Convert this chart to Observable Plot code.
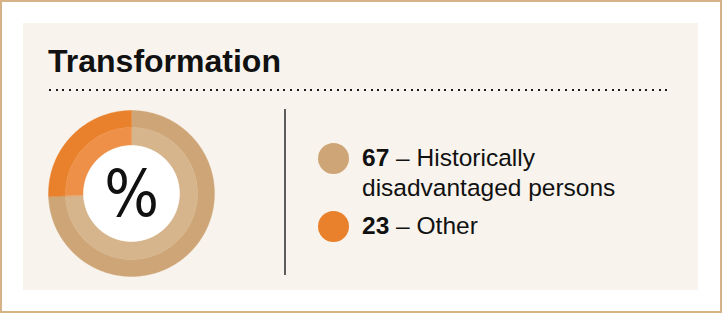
<!DOCTYPE html>
<html>
<head>
<meta charset="utf-8">
<script src="https://cdn.jsdelivr.net/npm/d3@7"></script>
<script src="https://cdn.jsdelivr.net/npm/@observablehq/plot@0.6"></script>
<style>
  html, body { margin: 0; padding: 0; background: #fff; }
  .page { position: relative; width: 722px; height: 313px; box-sizing: border-box; border: 2px solid #D6B386; background: #fff; overflow: hidden; font-family: "Liberation Sans", Arial, sans-serif; }
  .panel { position: absolute; left: 21px; top: 21px; width: 675px; height: 267px; background: #F8F4ED; }
  .title { position: absolute; left: 46px; top: 43px; font-size: 32px; line-height: 32px; font-weight: bold; color: #111; white-space: nowrap; }
  .dots { position: absolute; left: 47px; top: 87px; width: 622px; height: 2px;
          background: repeating-linear-gradient(to right, #1a1a1a 0, #1a1a1a 2px, transparent 2px, transparent 6.7px); }
  .divider { position: absolute; left: 282px; top: 107px; width: 2px; height: 166px; background: #5c5c5c; }
  #donut { position: absolute; left: 46px; top: 108px; width: 166px; height: 166px; }
  .legend { position: absolute; left: 316px; top: 141px; }
  .item { position: relative; display: flex; align-items: flex-start; margin-bottom: 8px; }
  .swatch { width: 31px; height: 31px; border-radius: 50%; flex: none; }
  .label { margin-left: 13px; width: 265px; font-size: 24.5px; line-height: 30px; color: #111; }
  .label b { font-weight: bold; }
</style>
</head>
<body>
<div class="page">
  <div class="panel"></div>
  <div class="title" id="title"></div>
  <div class="dots"></div>
  <div id="donut"></div>
  <div class="divider"></div>
  <div class="legend" id="legend"></div>
</div>
<script>
// ---- data ----
const chartTitle = "Transformation";
const categories = ["Historically disadvantaged persons", "Other"];
const values = [67, 23];
const outerColors = ["#CEA576", "#E9802C"];
const innerColors = ["#D6B58C", "#EE9047"];
const centerLabel = "%";

document.getElementById("title").textContent = chartTitle;

// ---- donut geometry from data ----
const arcs = d3.pie().sort(null).value(d => d)(values);
const rHole = 48 / 83, rMid = 66 / 83, rOut = 1;
function sector(key, a0, a1, r0, r1, color) {
  const n = Math.max(2, Math.ceil((a1 - a0) / 0.01));
  const pts = [];
  for (let i = 0; i <= n; i++) {
    const a = a0 + (a1 - a0) * i / n;
    pts.push({key, color, x: r1 * Math.sin(a), y: r1 * Math.cos(a)});
  }
  for (let i = n; i >= 0; i--) {
    const a = a0 + (a1 - a0) * i / n;
    pts.push({key, color, x: r0 * Math.sin(a), y: r0 * Math.cos(a)});
  }
  return pts;
}
let points = [];
arcs.forEach((a, i) => {
  points = points.concat(sector(categories[i] + "-outer", a.startAngle, a.endAngle, rMid, rOut, outerColors[i]));
  points = points.concat(sector(categories[i] + "-inner", a.startAngle, a.endAngle, rHole, rMid, innerColors[i]));
});
const hole = sector("hole", 0, 2 * Math.PI, 0, rHole, "#ffffff");

const chart = Plot.plot({
  width: 166,
  height: 166,
  margin: 0,
  x: {domain: [-1, 1], axis: null},
  y: {domain: [-1, 1], axis: null},
  color: {type: "identity"},
  style: {background: "transparent", overflow: "visible"},
  marks: [
    Plot.line(points, {x: "x", y: "y", z: "key", fill: "color", stroke: "color", strokeWidth: 0.4, curve: "linear-closed"}),
    Plot.line(hole, {x: "x", y: "y", z: "key", fill: "color", stroke: "color", strokeWidth: 0.4, curve: "linear-closed"}),
    Plot.text([centerLabel], {frameAnchor: "middle", fontSize: 64, fill: "#111", fontFamily: "'Liberation Sans Narrow', 'DejaVu Sans Condensed', sans-serif", dy: 2})
  ]
});
document.getElementById("donut").appendChild(chart);

// ---- legend ----
const legend = d3.select("#legend");
categories.forEach((c, i) => {
  const item = legend.append("div").attr("class", "item");
  item.append("div").attr("class", "swatch").style("background", outerColors[i]);
  const lab = item.append("div").attr("class", "label");
  lab.append("b").text(values[i]);
  lab.append("span").text(" \u2013");
  c.split(" ").forEach(w => {
    lab.append(() => document.createTextNode(" "));
    lab.append("span").text(w);
  });
});
</script>
</body>
</html>
